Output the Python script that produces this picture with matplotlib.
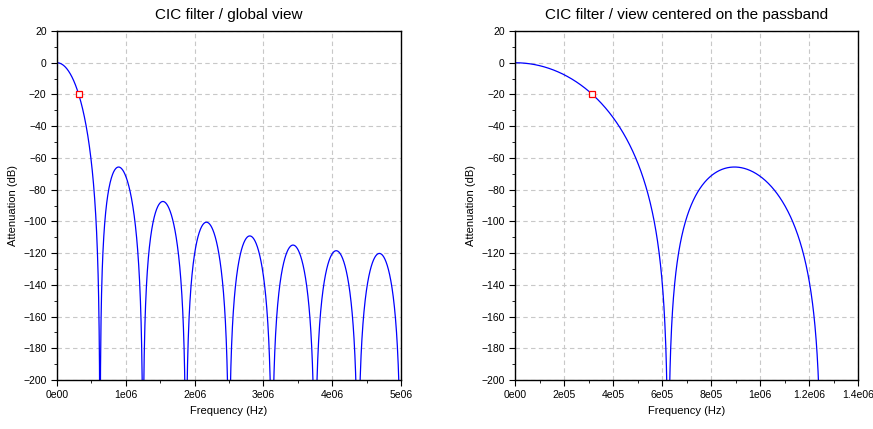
import numpy as np
import matplotlib.pyplot as plt
from matplotlib.ticker import AutoMinorLocator, FuncFormatter

# CIC filter parameters
fs = 10e6          # input sample rate (Hz)
R = 16             # decimation ratio
N = 5              # number of stages

f_global = np.linspace(0, fs / 2, 2001)
f_pass = np.linspace(0, 2 * fs / R, 1001)

titles = ["CIC filter / global view", "CIC filter / view centered on the passband"]
xlims = [(0, 5e6), (0, 1.4e6)]
xticks = [np.arange(0, 5.01e6, 1e6), np.arange(0, 1.41e6, 2e5)]
xlabels = [["0e00", "1e06", "2e06", "3e06", "4e06", "5e06"],
           ["0e00", "2e05", "4e05", "6e05", "8e05", "1e06", "1.2e06", "1.4e06"]]
yticks = np.arange(-200, 21, 20)


def cic_db(f):
    x = np.pi * f / fs
    with np.errstate(divide="ignore", invalid="ignore"):
        h = np.abs(np.sin(R * x) / (R * np.sin(x)))
    h[f == 0] = 1.0
    return np.maximum(20 * N * np.log10(np.maximum(h, 1e-30)), -400)


plt.rcParams['font.family'] = ['Liberation Sans', 'DejaVu Sans']
fig = plt.figure(figsize=(8.73, 4.29), dpi=100)
axes = [fig.add_axes([0.0653, 0.1142, 0.394, 0.8135]),
        fig.add_axes([0.590, 0.1142, 0.393, 0.8135])]

fc = fs / (2 * R)
for i, (ax, f) in enumerate(zip(axes, [f_global, f_pass])):
    ax.plot(f, cic_db(f), color="blue", lw=0.9)
    ax.plot([fc], cic_db(np.array([fc])), "s", ms=5, mfc="white", mec="red", mew=0.9)
    ax.set_xlim(*xlims[i])
    ax.set_ylim(-200, 20)
    ax.set_xticks(xticks[i])
    ax.set_xticklabels(xlabels[i])
    ax.set_yticks(yticks)
    ax.xaxis.set_minor_locator(AutoMinorLocator(2))
    ax.yaxis.set_minor_locator(AutoMinorLocator(2))
    ax.tick_params(which="both", direction="out", labelsize=7.5, length=4)
    ax.tick_params(which="minor", length=2.5)
    ax.grid(True, which="major", color="#c8c8c8", ls=(0, (4, 3)), lw=0.8)
    for s in ax.spines.values():
        s.set_linewidth(1.0)
    ax.set_title(titles[i], fontsize=11, pad=9)
    ax.set_xlabel("Frequency (Hz)", fontsize=8)
    ax.set_ylabel("Attenuation (dB)", fontsize=8)

fig.savefig("out.png", dpi=100)
